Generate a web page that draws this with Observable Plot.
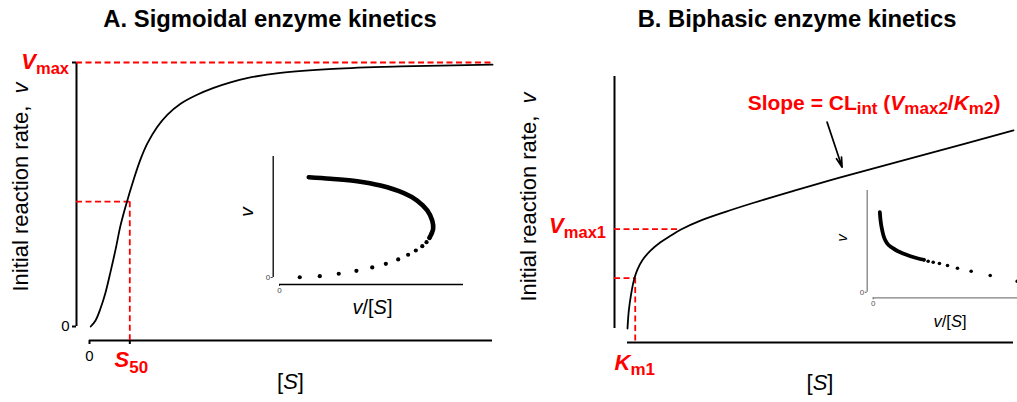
<!DOCTYPE html>
<html>
<head>
<meta charset="utf-8">
<script src="https://cdn.jsdelivr.net/npm/d3@7"></script>
<script src="https://cdn.jsdelivr.net/npm/@observablehq/plot@0.6"></script>
<style>
html, body { margin: 0; padding: 0; background: #fff; }
#fig { position: relative; width: 1017px; height: 402px; overflow: hidden; background: #fff;
       font-family: "Liberation Sans", Arial, Helvetica, sans-serif; }
#fig svg { position: absolute; left: 0; top: 0; }
.title { position: absolute; top: 7px; font-weight: bold; font-size: 23.8px; line-height: 1;
         text-align: center; white-space: nowrap; color: #000; }
</style>
</head>
<body>
<div id="fig">
  <div class="title" style="left:0px;width:540px;">A. Sigmoidal enzyme kinetics</div>
  <div class="title" style="left:597px;width:400px;">B. Biphasic enzyme kinetics</div>
</div>
<script>
const FONT = '"Liberation Sans", Arial, Helvetica, sans-serif';
const RED = "#ff0000";
const W = 1017, H = 402;

// ---------- Panel A: sigmoidal curve (v vs [S]) ----------
const aS = [0.03, 0.15, 0.27, 0.40, 0.52, 0.65, 0.77, 0.89, 1.10, 1.27, 1.43, 1.68, 1.93, 2.26, 2.67, 3.08, 3.50, 3.91, 4.74, 6.05, 7.72, 10.0];
const aV = [0.0, 0.023, 0.067, 0.13, 0.206, 0.294, 0.383, 0.452, 0.559, 0.635, 0.692, 0.756, 0.802, 0.844, 0.878, 0.904, 0.925, 0.941, 0.961, 0.976, 0.985, 0.992];
const aDomainS = [0, 10];
const aDomainV = [0, 1];
const VMAX = 1;
const S50 = 1.0;
const V50 = 0.473;
const aXTicks = [0, S50];
const aYTicks = [0, VMAX];

// Panel A inset: Eadie-Hofstee (v vs v/[S])
const iaDotX = [0.110, 0.219, 0.322, 0.418, 0.504, 0.578, 0.645, 0.699, 0.741, 0.776, 0.799, 0.815, 0.826];
const iaDotY = [0.002, 0.011, 0.031, 0.055, 0.083, 0.113, 0.149, 0.188, 0.223, 0.259, 0.292, 0.328, 0.361];
const iaDenseX = [0.815, 0.826, 0.835, 0.830, 0.803, 0.748, 0.676, 0.549, 0.422, 0.277, 0.159];
const iaDenseY = [0.328, 0.361, 0.402, 0.471, 0.554, 0.636, 0.697, 0.760, 0.796, 0.816, 0.829];

// ---------- Panel B: biphasic curve ----------
const bS = [0, 0.034, 0.096, 0.163, 0.251, 0.381, 0.596, 0.855, 1.114, 1.373, 1.891, 2.539, 3.272, 4.300, 5.518, 7.935, 10.0];
const bV = [0, 0.071, 0.138, 0.190, 0.232, 0.270, 0.309, 0.342, 0.368, 0.392, 0.428, 0.463, 0.499, 0.546, 0.600, 0.700, 0.786];
const bDomainS = [0, 10];
const bDomainV = [0, 1];
const KM1 = 0.2, V_KM1 = 0.2;
const VMAX1 = 0.394, S_VMAX1 = 1.373;
const slopeArrow = [{x1: 5.17, y1: 0.819, x2: 5.56, y2: 0.640}];
const slopeLabelAt = [6.4, 0.865];

// Panel B inset
const ibDenseX = [0.046, 0.051, 0.058, 0.071, 0.085, 0.106, 0.132, 0.168, 0.212, 0.258, 0.305, 0.351];
const ibDenseY = [0.787, 0.705, 0.639, 0.558, 0.508, 0.464, 0.437, 0.405, 0.378, 0.354, 0.334, 0.319];
const ibDotX = [0.351, 0.381, 0.416, 0.459, 0.515, 0.584, 0.679, 0.811, 0.998];
const ibDotY = [0.319, 0.305, 0.295, 0.282, 0.263, 0.236, 0.206, 0.164, 0.108];

const zip = (xs, ys) => xs.map((x, i) => ({x, y: ys[i]}));

const dash = {stroke: RED, strokeWidth: 1.8, strokeDasharray: "6,3.5"};

function place(svg) {
  document.getElementById("fig").appendChild(svg);
  return svg;
}
function baseStyle(size, color) {
  return {fontFamily: FONT, fontSize: size, background: "transparent", overflow: "visible", color: color};
}
function tickWidth(svg, w) {
  d3.select(svg).selectAll('g[aria-label$="-axis tick"] path, g[aria-label$="-axis"] .tick line, g[aria-label$="-axis tick"] line')
    .attr("stroke-width", w);
}
function rich(svg, x, y, parts, o = {}) {
  const size = o.size || 22, sub = o.sub || Math.round(size * 0.76), shift = o.shift == null ? 5 : o.shift;
  const t = d3.select(svg).append("text")
    .attr("x", x).attr("y", y)
    .attr("text-anchor", o.anchor || "start")
    .attr("fill", o.fill || "black")
    .attr("font-family", FONT)
    .attr("font-size", size)
    .attr("font-weight", o.bold ? "bold" : "normal")
    .style("white-space", "pre");
  if (o.rotate) t.attr("transform", `rotate(${o.rotate} ${x} ${y})`);
  let cur = 0;
  for (const p of parts) {
    const ts = t.append("tspan").text(p.t);
    const want = p.sub ? shift : 0;
    if (want !== cur) { ts.attr("dy", want - cur); cur = want; }
    if (p.sub) ts.attr("font-size", sub);
    if (p.it) ts.attr("font-style", "italic");
  }
  return t;
}

// ================= Panel A main =================
const curveA = zip(aS, aV);
const plotA = place(Plot.plot({
  width: W, height: H,
  marginLeft: 76, marginBottom: 62, marginTop: 0, marginRight: 0,
  style: baseStyle("15px", "black"),
  x: {domain: aDomainS, range: [89, 492], ticks: aXTicks, tickFormat: d => d === 0 ? "0" : "", tickSize: 4, tickPadding: 6, label: null},
  y: {domain: aDomainV, range: [326, 62], ticks: aYTicks, tickFormat: d => d === 0 ? "0" : "", tickSize: 4, tickPadding: 3, label: null},
  marks: [
    Plot.ruleX([aDomainS[0]], {y1: aDomainV[1], y2: aDomainV[0], dx: -13, strokeWidth: 2}),
    Plot.ruleY([aDomainV[0]], {x1: aDomainS[0], x2: aDomainS[1], dy: 14, strokeWidth: 2}),
    Plot.ruleY([VMAX], {x1: aDomainS[0], x2: aDomainS[1], insetLeft: -13, ...dash}),
    Plot.ruleY([V50], {x1: aDomainS[0], x2: S50, insetLeft: -13, ...dash}),
    Plot.ruleX([S50], {y1: V50, y2: aDomainV[0], insetBottom: -14, ...dash}),
    Plot.line(curveA, {x: "x", y: "y", curve: "catmull-rom", stroke: "black", strokeWidth: 1.8})
  ]
}));
tickWidth(plotA, 2);
{
  const sx = plotA.scale("x").apply, sy = plotA.scale("y").apply;
  rich(plotA, sx(0) - 20, sy(VMAX) + 6.5, [{t: "V", it: true}, {t: "max", sub: true}],
       {anchor: "end", fill: RED, bold: true, size: 22, sub: 16.5, shift: 5});
  rich(plotA, sx(S50) + 2, sy(0) + 40.7, [{t: "S", it: true}, {t: "50", sub: true}],
       {anchor: "middle", fill: RED, bold: true, size: 22, sub: 17, shift: 6});
  rich(plotA, sx(0) - 61, (sy(0) + sy(VMAX)) / 2 - 7, [{t: "Initial reaction rate,  "}, {t: "v", it: true}],
       {anchor: "middle", size: 22, rotate: -90});
  rich(plotA, (sx(aDomainS[0]) + sx(aDomainS[1])) / 2, sy(0) + 63, [{t: "["}, {t: "S", it: true}, {t: "]"}],
       {anchor: "middle", size: 22});
}

// ================= Panel A inset =================
const plotAi = place(Plot.plot({
  width: W, height: H,
  marginLeft: 272.7, marginBottom: 118, marginTop: 0, marginRight: 0,
  style: baseStyle("8px", "#444"),
  x: {domain: [0, 1], range: [279, 463], ticks: [0], tickFormat: () => "0", tickSize: 2, tickPadding: 1, label: null},
  y: {domain: [0, 1], range: [277, 156], ticks: [0], tickFormat: () => "0", tickSize: 2, tickPadding: 1, label: null},
  marks: [
    Plot.ruleX([0], {y1: 1, y2: 0, dx: -6.3, stroke: "black", strokeWidth: 1.3}),
    Plot.ruleY([0], {x1: 0, x2: 1, dy: 7, stroke: "black", strokeWidth: 1.3}),
    Plot.line(zip(iaDenseX, iaDenseY), {x: "x", y: "y", curve: "catmull-rom", stroke: "black", strokeWidth: 4.6, strokeLinecap: "round", strokeLinejoin: "round"}),
    Plot.dot(zip(iaDotX, iaDotY), {x: "x", y: "y", r: 2.1, fill: "black", stroke: "none"})
  ]
}));
{
  const ix = plotAi.scale("x").apply, iy = plotAi.scale("y").apply;
  rich(plotAi, ix(0) - 26, (iy(0) + iy(1)) / 2 - 4.5, [{t: "v", it: true}], {anchor: "middle", size: 19, rotate: -90});
  rich(plotAi, (ix(0) + ix(1)) / 2 + 1.5, iy(0) + 37, [{t: "v", it: true}, {t: "/["}, {t: "S", it: true}, {t: "]"}],
       {anchor: "middle", size: 20});
}

// ================= Panel B main =================
const curveB = zip(bS, bV);
const plotB = place(Plot.plot({
  width: W, height: H,
  marginLeft: 613.7, marginBottom: 60, marginTop: 0, marginRight: 0,
  style: baseStyle("15px", "black"),
  x: {domain: bDomainS, range: [627, 1013], axis: null},
  y: {domain: bDomainV, range: [328, 76], axis: null},
  marks: [
    Plot.ruleX([bDomainS[0]], {y1: bDomainV[1], y2: bDomainV[0], dx: -13, strokeWidth: 2}),
    Plot.ruleY([bDomainV[0]], {x1: bDomainS[0], x2: bDomainS[1], dy: 14, strokeWidth: 2}),
    Plot.ruleY([VMAX1], {x1: bDomainS[0], x2: S_VMAX1, insetLeft: -13, ...dash}),
    Plot.ruleY([V_KM1], {x1: bDomainS[0], x2: KM1, insetLeft: -13, ...dash}),
    Plot.ruleX([KM1], {y1: V_KM1, y2: bDomainV[0], insetBottom: -14, ...dash}),
    Plot.line(curveB, {x: "x", y: "y", curve: "catmull-rom", stroke: "black", strokeWidth: 1.8}),
    Plot.arrow(slopeArrow, {x1: "x1", y1: "y1", x2: "x2", y2: "y2", stroke: "black", strokeWidth: 1.7, headLength: 9, headAngle: 30})
  ]
}));
{
  const sx = plotB.scale("x").apply, sy = plotB.scale("y").apply;
  rich(plotB, sx(0) - 21, sy(VMAX1) + 4.3, [{t: "V", it: true}, {t: "max1", sub: true}],
       {anchor: "end", fill: RED, bold: true, size: 22, sub: 16.5, shift: 5});
  rich(plotB, sx(KM1), sy(0) + 42, [{t: "K", it: true}, {t: "m1", sub: true}],
       {anchor: "middle", fill: RED, bold: true, size: 22, sub: 17, shift: 5});
  rich(plotB, sx(0) - 91, (sy(0) + sy(1)) / 2 - 5, [{t: "Initial reaction rate,  "}, {t: "v", it: true}],
       {anchor: "middle", size: 22, rotate: -90});
  rich(plotB, (sx(bDomainS[0]) + sx(bDomainS[1])) / 2, sy(0) + 62, [{t: "["}, {t: "S", it: true}, {t: "]"}],
       {anchor: "middle", size: 22});
  rich(plotB, sx(slopeLabelAt[0]), sy(slopeLabelAt[1]),
       [{t: "Slope = CL"}, {t: "int", sub: true}, {t: " ("}, {t: "V", it: true}, {t: "max2", sub: true},
        {t: "/"}, {t: "K", it: true}, {t: "m2", sub: true}, {t: ")"}],
       {anchor: "middle", fill: RED, bold: true, size: 21, sub: 17, shift: 4});
}

// ================= Panel B inset =================
const plotBi = place(Plot.plot({
  width: W, height: H,
  marginLeft: 866.7, marginBottom: 104.7, marginTop: 0, marginRight: 0,
  style: baseStyle("8px", "#555"),
  x: {domain: [0, 1], range: [872.7, 1017], ticks: [0], tickFormat: () => "0", tickSize: 2, tickPadding: 1, label: null},
  y: {domain: [0, 1], range: [291.7, 190], ticks: [0], tickFormat: () => "0", tickSize: 2, tickPadding: 1, label: null},
  marks: [
    Plot.ruleX([0], {y1: 1, y2: 0, dx: -6, stroke: "#808080", strokeWidth: 1.3}),
    Plot.ruleY([0], {x1: 0, x2: 1, dy: 5.6, stroke: "#808080", strokeWidth: 1.3}),
    Plot.line(zip(ibDenseX, ibDenseY), {x: "x", y: "y", curve: "catmull-rom", stroke: "black", strokeWidth: 3.8, strokeLinecap: "round", strokeLinejoin: "round"}),
    Plot.dot(zip(ibDotX, ibDotY), {x: "x", y: "y", r: 1.8, fill: "black", stroke: "none"})
  ]
}));
{
  const ix = plotBi.scale("x").apply, iy = plotBi.scale("y").apply;
  rich(plotBi, ix(0) - 25.4, (iy(0) + iy(1)) / 2 - 3, [{t: "v", it: true}], {anchor: "middle", size: 14.5, rotate: -90});
  rich(plotBi, ix(0) + 77.3, iy(0) + 35.3, [{t: "v", it: true}, {t: "/["}, {t: "S", it: true}, {t: "]"}],
       {anchor: "middle", size: 16.5});
}
</script>
</body>
</html>
